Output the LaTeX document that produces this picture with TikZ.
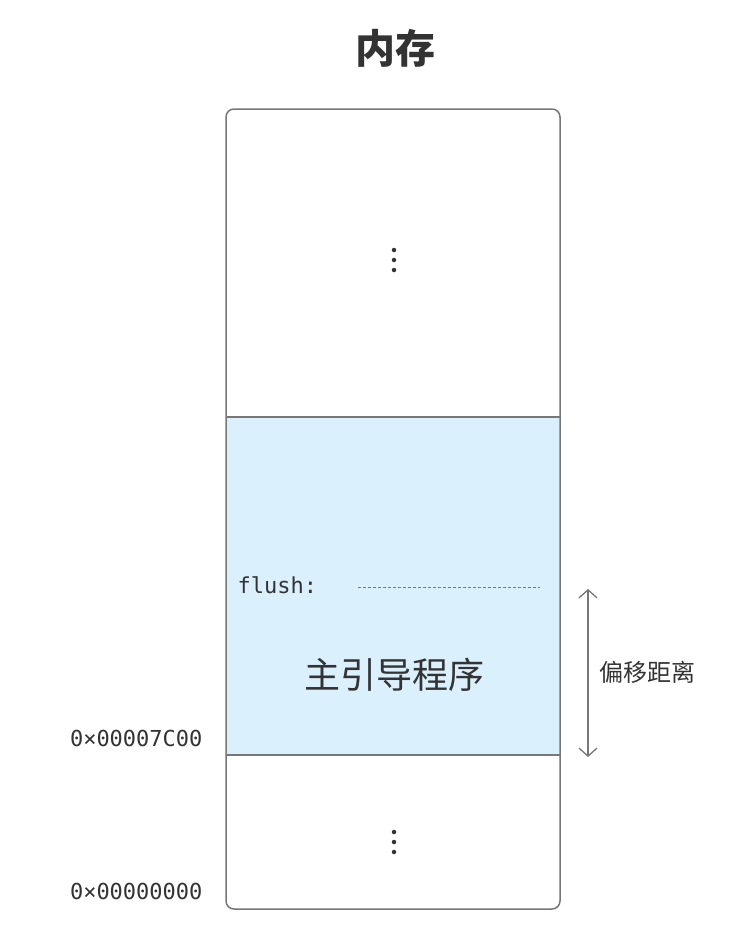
\documentclass[tikz,border=0pt]{standalone}
\usepackage{fontspec}
\setmonofont{DejaVu Sans Mono}
\newfontfamily\cjk{Noto Sans CJK SC}
\newfontfamily\cjkb{Noto Sans CJK SC Bold}
\usetikzlibrary{arrows.meta}
\definecolor{edge}{HTML}{777777}
\definecolor{blue1}{HTML}{DAF0FC}
\definecolor{txt}{HTML}{333333}
\tikzset{
  mem/.style={draw=edge,line width=1.5pt},
  addr/.style={anchor=east,font=\ttfamily\fontsize{22}{24}\selectfont,text=txt},
  vdots/.style={fill=txt,circle,inner sep=0pt,minimum size=4.5pt}
}
\begin{document}
\begin{tikzpicture}[x=1pt,y=-1pt]
\useasboundingbox (0,0) rectangle (735,937);
\node (title) at (395,48) {\cjk\bfseries\fontsize{40}{44}\selectfont\color{txt}内存};
\fill[blue1] (226,417) rectangle (560,755);
\draw[mem] (226,417) -- (560,417);
\draw[mem] (226,755) -- (560,755);
\draw[mem,rounded corners=8pt] (226,109) rectangle (560,909);
\foreach \y in {250,260,270} \node[vdots] at (394,\y) {};
\foreach \y in {832,842,852} \node[vdots] at (394,\y) {};
\node[anchor=west,font=\ttfamily\fontsize{22}{24}\selectfont,text=txt] (flush) at (234,585) {flush:};
\coordinate (d1) at (358,587);
\coordinate (d2) at (540,587);
\draw[edge,dashed,dash pattern=on 3pt off 2pt,line width=0.8pt] (d1) -- (d2);
\node (main) at (394,675) {\cjk\fontsize{36}{40}\selectfont\color{txt}主引导程序};
\coordinate (a1) at (588,589);
\coordinate (a2) at (588,757);
\draw[edge,line width=1.3pt,{Straight Barb[length=8pt,width=18pt]}-{Straight Barb[length=8pt,width=18pt]}] (a1) -- (a2);
\node[anchor=west] (off) at (596,672) {\cjk\fontsize{24}{28}\selectfont\color{txt}偏移距离};
\node[addr] (ad1) at (206,738) {0×00007C00};
\node[addr] (ad0) at (206,891) {0×00000000};
\end{tikzpicture}
\end{document}
